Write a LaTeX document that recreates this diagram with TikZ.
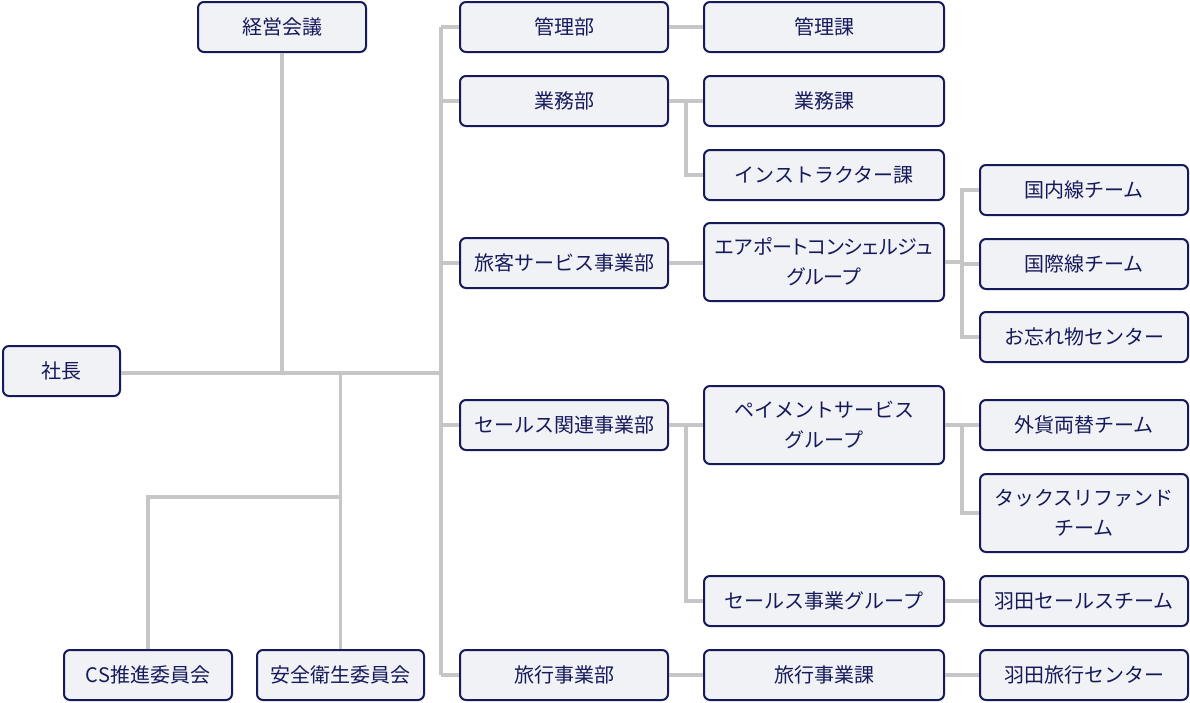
\documentclass[tikz,border=0pt]{standalone}
\usepackage{fontspec}
\setmainfont{Noto Sans CJK JP}
\newfontfamily\tightkana[RawFeature=+palt]{Noto Sans CJK JP}
\usepackage{tikz}
\definecolor{navy}{HTML}{161A5A}
\definecolor{boxfill}{HTML}{F0F2F5}
\definecolor{linkgray}{HTML}{C6C6C6}
\tikzstyle{unit} = [rectangle, rounded corners=6pt, text centered, align=center, draw=navy, line width=2pt, fill=boxfill, text=navy, minimum height=50pt, inner sep=0pt, font=\fontsize{20}{30}\selectfont]
\tikzstyle{twoline} = [unit, minimum height=78pt]
\tikzstyle{link} = [linkgray, line width=3.5pt]

\begin{document}
\begin{tikzpicture}[x=1pt, y=-1pt]
	\useasboundingbox (0,0) rectangle (1190,702);
	\node (shacho) at (61.5, 371) [unit, minimum width=117pt] {社長};
	\node (keiei) at (282, 27) [unit, minimum width=168pt] {経営会議};
	\node (csiin) at (148, 675) [unit, minimum width=168pt] {CS推進委員会};
	\node (anzen) at (340.5, 675) [unit, minimum width=167pt] {安全衛生委員会};
	\node (kanri) at (564, 27) [unit, minimum width=208pt] {管理部};
	\node (gyomu) at (564, 101) [unit, minimum width=208pt] {業務部};
	\node (ryokaku) at (564, 263) [unit, minimum width=208pt] {旅客サービス事業部};
	\node (sales) at (564, 425) [unit, minimum width=208pt] {セールス関連事業部};
	\node (ryoko) at (564, 675) [unit, minimum width=208pt] {旅行事業部};
	\node (kanrika) at (824, 27) [unit, minimum width=240pt] {管理課};
	\node (gyomuka) at (824, 101) [unit, minimum width=240pt] {業務課};
	\node (instra) at (824, 175) [unit, minimum width=240pt] {インストラクター課};
	\node (airport) at (824, 262) [twoline, minimum width=240pt] {\tightkana エアポートコンシェルジュ\\\tightkana グループ};
	\node (payment) at (824, 425) [twoline, minimum width=240pt] {ペイメントサービス\\グループ};
	\node (salesgr) at (824, 601) [unit, minimum width=240pt] {セールス事業グループ};
	\node (ryokoka) at (824, 675) [unit, minimum width=240pt] {旅行事業課};
	\node (kokunai) at (1084, 190) [unit, minimum width=208pt] {国内線チーム};
	\node (kokusai) at (1084, 264) [unit, minimum width=208pt] {国際線チーム};
	\node (wasure) at (1084, 337) [unit, minimum width=208pt] {お忘れ物センター};
	\node (gaika) at (1084, 425) [unit, minimum width=208pt] {外貨両替チーム};
	\node (tax) at (1084, 513) [twoline, minimum width=208pt] {タックスリファンド\\チーム};
	\node (haneda) at (1084, 601) [unit, minimum width=208pt] {羽田セールスチーム};
	\node (hanedaryo) at (1084, 675) [unit, minimum width=208pt] {羽田旅行センター};
	\coordinate (trunk) at (441, 373);
	\coordinate (csjoin) at (340.5, 497);
	\coordinate (midbus) at (686, 0);
	\coordinate (teambus) at (962, 0);
	\draw[link] (shacho.east |- trunk) -- (trunk);
	\draw[link] (keiei.south) -- (keiei.south |- trunk);
	\draw[link] (anzen.north) -- (anzen.north |- trunk);
	\draw[link] (csiin.north) |- (csjoin);
	\draw[link] (kanri.west -| trunk) -- (ryoko.west -| trunk);
	\foreach \n in {kanri,gyomu,ryokaku,sales,ryoko}
		\draw[link] (\n.west) -- (\n.west -| trunk);
	\draw[link] (kanri.east) -- (kanrika.west);
	\draw[link] (gyomu.east) -- (gyomuka.west);
	\draw[link] (gyomu.east -| midbus) |- (instra.west);
	\draw[link] (ryokaku.east) -- (ryokaku.east -| airport.west);
	\draw[link] (sales.east) -- (payment.west);
	\draw[link] (sales.east -| midbus) |- (salesgr.west);
	\draw[link] (ryoko.east) -- (ryokoka.west);
	\draw[link] (airport.east) -- (airport.east -| teambus);
	\draw[link] (kokunai.west) -| (teambus |- wasure.west) -- (wasure.west);
	\draw[link] (kokusai.west) -- (kokusai.west -| teambus);
	\draw[link] (payment.east) -- (gaika.west);
	\draw[link] (gaika.west -| teambus) |- (tax.west);
	\draw[link] (salesgr.east) -- (haneda.west);
	\draw[link] (ryokoka.east) -- (hanedaryo.west);
\end{tikzpicture}
\end{document}
